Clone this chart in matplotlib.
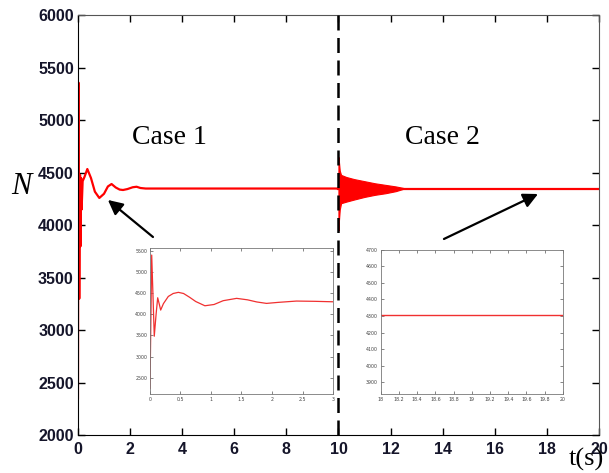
import numpy as np
import matplotlib
matplotlib.use('Agg')
import matplotlib.pyplot as plt

# Speed response N(t): case 1 start-up transient (0-10 s)
t_case1 = [0.0, 0.02, 0.05, 0.08, 0.10, 0.12, 0.14, 0.18, 0.25, 0.36, 0.5, 0.65,
           0.82, 1.0, 1.15, 1.29, 1.45, 1.6, 1.73, 1.9, 2.1, 2.25, 2.4, 2.6, 10.0]
n_case1 = [2350, 5360, 3300, 4480, 3800, 4450, 4150, 4420, 4460, 4536, 4450, 4320,
           4260, 4300, 4370, 4393, 4360, 4340, 4336, 4345, 4362, 4367, 4355, 4350, 4350]

# case 2 (10-20 s): steady value plus decaying fast oscillation envelope
t_case2 = [10.0, 20.0]
n_case2 = [4350, 4350]
t_env = [10.0, 10.02, 10.05, 10.1, 10.3, 10.6, 11.0, 11.4, 11.8, 12.2, 12.5]
n_upper = [4650, 4600, 4520, 4480, 4460, 4440, 4420, 4400, 4385, 4370, 4355]
n_lower = [3950, 4050, 4150, 4210, 4225, 4245, 4270, 4290, 4305, 4325, 4348]

# zoomed views
t_zoom1 = [0, 0.028, 0.07, 0.1, 0.126, 0.15, 0.175, 0.22, 0.3, 0.38, 0.465, 0.55,
           0.65, 0.75, 0.9, 1.05, 1.2, 1.42, 1.6, 1.75, 1.91, 2.1, 2.4, 2.7, 3.0]
n_zoom1 = [2250, 5398, 3480, 4000, 4389, 4250, 4098, 4250, 4420, 4490, 4517, 4490,
           4400, 4300, 4200, 4230, 4320, 4375, 4340, 4290, 4256, 4280, 4311, 4305, 4294]
t_zoom2 = [18, 20]
n_zoom2 = [4307, 4307]

x_ticks = np.arange(0, 21, 2)
y_ticks = np.arange(2000, 6001, 500)
zoom1_xticks = [0, 0.5, 1, 1.5, 2, 2.5, 3]
zoom1_xlabels = ['0', '0.5', '1', '1.5', '2', '2.5', '3']
zoom2_xticks = [18, 18.2, 18.4, 18.6, 18.8, 19, 19.2, 19.4, 19.6, 19.8, 20]
zoom2_xlabels = ['18', '18.2', '18.4', '18.6', '18.8', '19', '19.2', '19.4', '19.6', '19.8', '20']

red = '#ff0000'
lab = '#15152a'

fig = plt.figure(figsize=(6.09, 4.73), dpi=100)
ax = fig.add_axes([0.128, 0.0803, 0.8555, 0.887])

ax.plot(t_case1, n_case1, color=red, lw=1.6)
ax.plot(t_case2, n_case2, color=red, lw=1.6)
ax.fill_between(t_env, n_lower, n_upper, color=red, lw=0.8)
ax.axvline(10, color='k', lw=1.8, ls=(0, (6, 3)), zorder=5)

ax.set_xlim(0, 20)
ax.set_ylim(2000, 6000)
ax.set_xticks(x_ticks)
ax.set_yticks(y_ticks)
ax.tick_params(direction='in', length=5, width=1, top=True, right=True,
               labelsize=11.5, labelcolor=lab)
ax.tick_params(axis='x', pad=5)
ax.tick_params(axis='y', pad=3)
for lbl in ax.get_xticklabels() + ax.get_yticklabels():
    lbl.set_fontweight('bold')
    lbl.set_family('Liberation Sans')
for s in ['left', 'bottom']:
    ax.spines[s].set_color('k')
for s in ['top', 'right']:
    ax.spines[s].set_color('#555555')

ax.text(3.53, 4832, 'Case 1', family='Liberation Serif', fontsize=20, ha='center', va='center')
ax.text(14.0, 4832, 'Case 2', family='Liberation Serif', fontsize=20, ha='center', va='center')
fig.text(0.035, 0.605, 'N', family='Liberation Serif', style='italic', fontsize=22,
         ha='center', va='center')
fig.text(0.962, 0.029, 't(s)', family='Liberation Serif', fontsize=19, ha='center', va='center')

arrow = dict(arrowstyle='-|>', color='k', lw=1.6, mutation_scale=22, shrinkA=0, shrinkB=0)
ax.annotate('', xy=(1.15, 4241), xytext=(2.88, 3888), arrowprops=arrow)
ax.annotate('', xy=(17.66, 4298), xytext=(14.05, 3869), arrowprops=arrow)

# inset axes for both cases
def style_inset(a):
    a.tick_params(direction='in', length=2, width=0.5, top=True, right=True,
                  labelsize=3.4, labelcolor='#444444', pad=2, color='#555555')
    for s in a.spines.values():
        s.set_color('#777777')
        s.set_linewidth(0.6)

ins1 = fig.add_axes([0.2463, 0.167, 0.3005, 0.3087])
ins1.plot(t_zoom1, n_zoom1, color='#f03030', lw=0.9)
ins1.set_xlim(0, 3)
ins1.set_ylim(2115, 5565)
ins1.set_xticks(zoom1_xticks)
ins1.set_xticklabels(zoom1_xlabels)
ins1.set_yticks(np.arange(2500, 5501, 500))
style_inset(ins1)

ins2 = fig.add_axes([0.625, 0.167, 0.2993, 0.305])
ins2.plot(t_zoom2, n_zoom2, color='#f03030', lw=1.0)
ins2.set_xlim(18, 20)
ins2.set_ylim(3830, 4700)
ins2.set_xticks(zoom2_xticks)
ins2.set_xticklabels(zoom2_xlabels)
ins2.set_yticks(np.arange(3900, 4701, 100))
style_inset(ins2)

fig.savefig('out.png', dpi=100)
